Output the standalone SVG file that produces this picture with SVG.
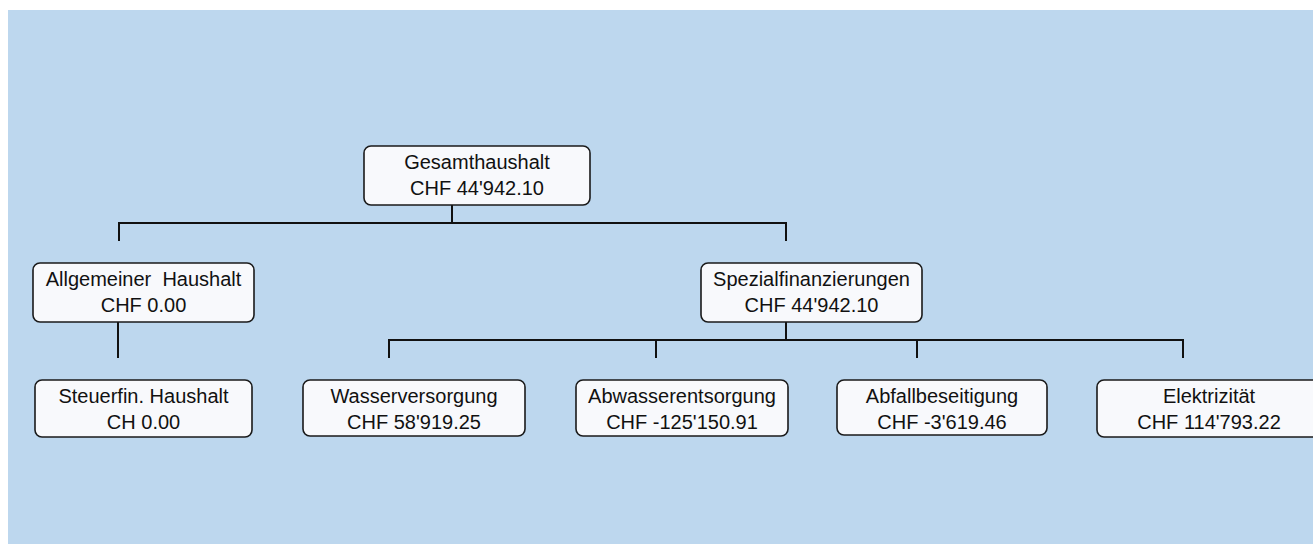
<svg xmlns="http://www.w3.org/2000/svg" width="1313" height="544" viewBox="0 0 1313 544">
<style>
.box{fill:#F8F9FC;stroke:#1a1a1a;stroke-width:1.6}
.t{font-family:"Liberation Sans",Arial,sans-serif;font-size:20px;fill:#111;text-anchor:middle;white-space:pre}
.c{fill:none;stroke:#111;stroke-width:2}
</style>
<rect x="0" y="0" width="1313" height="544" fill="#ffffff"/>
<rect x="8" y="10" width="1305" height="534" fill="#BDD7EE"/>
<g id="connectors">
<path class="c" d="M452,205 V223 M119,241 V223 H786 V241"/>
<path class="c" d="M118,322 V358"/>
<path class="c" d="M786,322 V340 M389,358 V340 H1183 V358 M656,340 V358 M917,340 V358"/>
</g>
<g id="gesamt">
<rect class="box" x="364" y="146" width="226" height="59" rx="7"/>
<text class="t" x="477" y="168.5">Gesamthaushalt</text>
<text class="t" x="477" y="194.5">CHF 44'942.10</text>
</g>
<g id="allgemein">
<rect class="box" x="33" y="263" width="221" height="59" rx="7"/>
<text class="t" x="143.5" y="285.5">Allgemeiner  Haushalt</text>
<text class="t" x="143.5" y="312">CHF 0.00</text>
</g>
<g id="spezial">
<rect class="box" x="701" y="263" width="221" height="59" rx="7"/>
<text class="t" x="811.5" y="285.5">Spezialfinanzierungen</text>
<text class="t" x="811.5" y="312">CHF 44'942.10</text>
</g>
<g id="steuerfin">
<rect class="box" x="35" y="380" width="217" height="57" rx="7"/>
<text class="t" x="143.5" y="402.5">Steuerfin. Haushalt</text>
<text class="t" x="143.5" y="428.5">CH 0.00</text>
</g>
<g id="wasser">
<rect class="box" x="303" y="380" width="222" height="56" rx="7"/>
<text class="t" x="414" y="402.5">Wasserversorgung</text>
<text class="t" x="414" y="428.5">CHF 58'919.25</text>
</g>
<g id="abwasser">
<rect class="box" x="576" y="380" width="212" height="56" rx="7"/>
<text class="t" x="682" y="402.5">Abwasserentsorgung</text>
<text class="t" x="682" y="428.5">CHF -125'150.91</text>
</g>
<g id="abfall">
<rect class="box" x="837" y="380" width="210" height="55" rx="7"/>
<text class="t" x="942" y="402.5">Abfallbeseitigung</text>
<text class="t" x="942" y="428.5">CHF -3'619.46</text>
</g>
<g id="elektrizitaet">
<rect class="box" x="1097" y="380" width="224" height="57" rx="7"/>
<text class="t" x="1209" y="402.5">Elektrizität</text>
<text class="t" x="1209" y="428.5">CHF 114'793.22</text>
</g>
</svg>
